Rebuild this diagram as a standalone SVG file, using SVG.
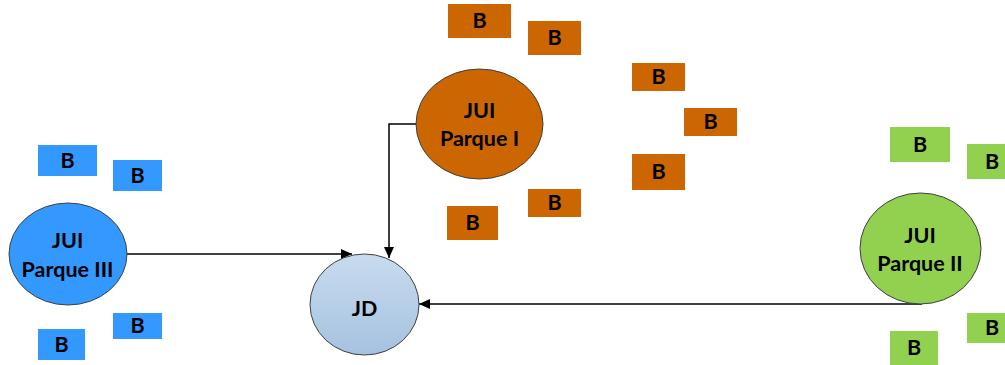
<svg xmlns="http://www.w3.org/2000/svg" width="1005" height="365" viewBox="0 0 1005 365">
<style>
text{font-family:Lato,"Liberation Sans",sans-serif;font-weight:bold;font-size:21.5px;fill:#000;text-anchor:middle}
.o{fill:#cc6600}
.b{fill:#3399ff}
.g{fill:#92d050}
.el{stroke:#404040;stroke-width:1}
.c{fill:none;stroke:#000;stroke-width:1.5}
</style>
<defs>
<linearGradient id="jdg" x1="0" y1="0" x2="0" y2="1">
<stop offset="0" stop-color="#c8dbef"/>
<stop offset="1" stop-color="#a6c2df"/>
</linearGradient>
<marker id="ah" markerUnits="userSpaceOnUse" markerWidth="12" markerHeight="10" refX="11" refY="5" orient="auto">
<path d="M0,0 L11,5 L0,10 z" fill="#000"/>
</marker>
</defs>
<g id="connectors">
<path class="c" d="M127,254 H352" marker-end="url(#ah)"/>
<path class="c" d="M416,124 H389 V258" marker-end="url(#ah)"/>
<path class="c" d="M922,304 H419" marker-end="url(#ah)"/>
</g>
<g id="jd">
<ellipse class="el" cx="364.5" cy="304.5" rx="54.5" ry="50.5" fill="url(#jdg)"/>
<text x="364.5" y="316">JD</text>
</g>
<g id="jui-parque-i">
<ellipse class="o el" cx="479.5" cy="124" rx="63.5" ry="55"/>
<text x="479.5" y="118">JUI</text>
<text x="479.5" y="146">Parque I</text>
</g>
<g id="jui-parque-iii">
<ellipse class="b el" cx="68" cy="254" rx="59" ry="51"/>
<text x="67.5" y="248">JUI</text>
<text x="67.5" y="277">Parque III</text>
</g>
<g id="jui-parque-ii">
<ellipse class="g el" cx="920.5" cy="248.5" rx="60.5" ry="55.5"/>
<text x="920" y="243">JUI</text>
<text x="920" y="271">Parque II</text>
</g>
<g id="b-orange-1"><rect class="o" x="448" y="4" width="63" height="34"/><text x="479.5" y="28">B</text></g>
<g id="b-orange-2"><rect class="o" x="528" y="21" width="53" height="34"/><text x="554.5" y="45">B</text></g>
<g id="b-orange-3"><rect class="o" x="632" y="63" width="53" height="28"/><text x="658.5" y="84">B</text></g>
<g id="b-orange-4"><rect class="o" x="684" y="108" width="53" height="28"/><text x="710.5" y="129">B</text></g>
<g id="b-orange-5"><rect class="o" x="632" y="154" width="53" height="36"/><text x="658.5" y="179">B</text></g>
<g id="b-orange-6"><rect class="o" x="528" y="189" width="53" height="28"/><text x="554.5" y="210">B</text></g>
<g id="b-orange-7"><rect class="o" x="447" y="206" width="51" height="34"/><text x="472.5" y="230">B</text></g>
<g id="b-blue-1"><rect class="b" x="38" y="145" width="59" height="31"/><text x="67.5" y="167.5">B</text></g>
<g id="b-blue-2"><rect class="b" x="113" y="160" width="49" height="31"/><text x="137.5" y="182.5">B</text></g>
<g id="b-blue-3"><rect class="b" x="113" y="313" width="49" height="26"/><text x="137.5" y="333">B</text></g>
<g id="b-blue-4"><rect class="b" x="38" y="329" width="47" height="31"/><text x="61.5" y="351.5">B</text></g>
<g id="b-green-1"><rect class="g" x="890" y="127" width="60" height="35"/><text x="920" y="151.5">B</text></g>
<g id="b-green-2"><rect class="g" x="967" y="144" width="50" height="35"/><text x="992" y="168.5">B</text></g>
<g id="b-green-3"><rect class="g" x="967" y="313" width="50" height="30"/><text x="992" y="335">B</text></g>
<g id="b-green-4"><rect class="g" x="890" y="331" width="48" height="34"/><text x="914" y="355">B</text></g>
</svg>
